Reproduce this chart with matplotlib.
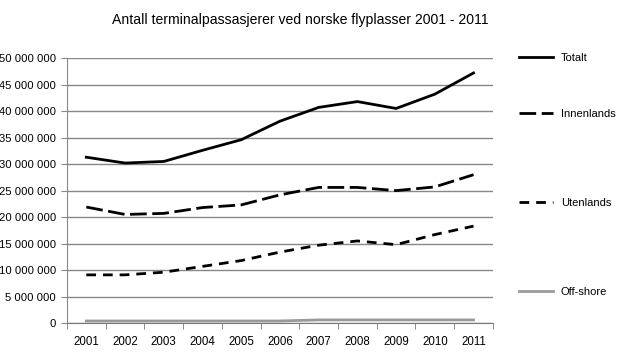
import numpy as np
import matplotlib.pyplot as plt
from matplotlib.lines import Line2D
from matplotlib.ticker import FuncFormatter

plt.rcParams['font.family'] = ['Liberation Sans', 'DejaVu Sans']

years = ['2001', '2002', '2003', '2004', '2005', '2006', '2007', '2008', '2009', '2010', '2011']
totalt = [31.3, 30.2, 30.5, 32.6, 34.6, 38.1, 40.7, 41.8, 40.5, 43.2, 47.2]
innenlands = [21.9, 20.5, 20.7, 21.8, 22.3, 24.2, 25.6, 25.6, 25.0, 25.7, 28.0]
utenlands = [9.1, 9.1, 9.6, 10.7, 11.8, 13.4, 14.7, 15.5, 14.8, 16.7, 18.3]
offshore = [0.4, 0.4, 0.4, 0.4, 0.4, 0.4, 0.6, 0.6, 0.6, 0.6, 0.6]

fig = plt.figure(figsize=(6.2, 3.61), dpi=100)
ax = fig.add_axes([0.108, 0.105, 0.687, 0.734])

x = np.arange(len(years))
lw = 2.0
ax.plot(x, np.array(totalt) * 1e6, color='black', lw=lw)
ax.plot(x, np.array(innenlands) * 1e6, color='black', lw=lw, dashes=(6, 2))
ax.plot(x, np.array(utenlands) * 1e6, color='black', lw=lw, dashes=(3.5, 2.5))
ax.plot(x, np.array(offshore) * 1e6, color='#999999', lw=lw)

ax.set_xlim(-0.5, len(years) - 0.5)
ax.set_ylim(0, 50e6)
ax.set_yticks(np.arange(0, 50e6 + 1, 5e6))
ax.yaxis.set_major_formatter(FuncFormatter(lambda v, p: '{:,.0f}'.format(v).replace(',', ' ')))
ax.set_xticks(x)
ax.set_xticklabels(years)
ax.set_xticks(np.arange(-0.5, len(years), 1), minor=True)
ax.tick_params(axis='x', which='major', length=0, pad=9, labelsize=8.3)
ax.tick_params(axis='x', which='minor', length=4, color='#777777')
ax.tick_params(axis='y', length=4, color='#888888', pad=4, labelsize=8.1)

ax.grid(axis='y', color='#888888', lw=1)
ax.set_axisbelow(True)
for s in ['top', 'right']:
    ax.spines[s].set_visible(False)
ax.spines['left'].set_color('#888888')
ax.spines['bottom'].set_color('#777777')

fig.text(0.485, 0.945, 'Antall terminalpassasjerer ved norske flyplasser 2001 - 2011',
         ha='center', va='center', fontsize=10.1)

entries = [
    ('Totalt', dict(color='black'), 0.839),
    ('Innenlands', dict(color='black', dashes=(6, 2)), 0.684),
    ('Utenlands', dict(color='black', dashes=(3.5, 2.5)), 0.438),
    ('Off-shore', dict(color='#999999'), 0.191),
]
for label, style, ypos in entries:
    h = Line2D([], [], lw=lw, **style)
    fig.legend(handles=[h], labels=[label], loc='center left', bbox_to_anchor=(0.837, ypos),
               frameon=False, fontsize=8, handlelength=3.06, handletextpad=0.7,
               borderaxespad=0, borderpad=0)

fig.savefig('out.png', dpi=100)
